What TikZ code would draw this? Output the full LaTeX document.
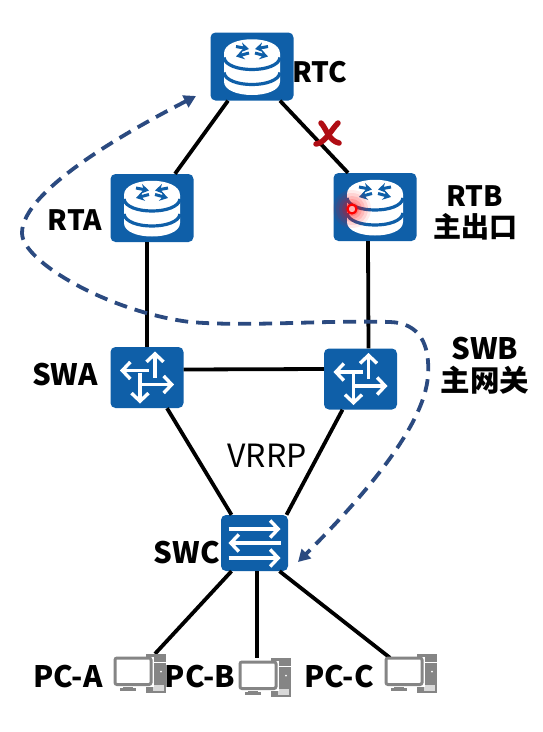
\documentclass[tikz,border=0pt]{standalone}
\usepackage{fontspec}
\setmainfont{Noto Sans CJK SC}
\usetikzlibrary{arrows.meta,calc}
\definecolor{iconblue}{HTML}{0F5FA8}
\definecolor{dashblue}{HTML}{2B4A80}
\definecolor{pcgray}{HTML}{858585}
\definecolor{xred}{HTML}{B00D14}
\tikzset{
  x=1pt,y=-1pt,
  routerbox/.style={fill=iconblue,rounded corners=5pt,minimum width=83pt,minimum height=68pt,inner sep=0pt},
  swabox/.style={fill=iconblue,rounded corners=5pt,minimum width=73pt,minimum height=61pt,inner sep=0pt},
  swcbox/.style={fill=iconblue,rounded corners=5pt,minimum width=67pt,minimum height=56pt,inner sep=0pt},
  pcbox/.style={minimum width=52pt,minimum height=39pt,inner sep=0pt},
  link/.style={line width=3.8pt,black},
  lbl/.style={font=\bfseries\fontsize{28}{33}\selectfont,inner sep=0pt,align=center},
  lblwide/.style={font=\bfseries\fontsize{29.5}{34}\selectfont,inner sep=0pt,align=center},
  whitearrow/.style={white,line width=3.4pt,-{Straight Barb[length=8pt,width=17pt,line width=3.4pt]}},
  bluearrow/.style={iconblue,line width=3pt,-{Stealth[length=8pt,width=10pt]}},
  routerglyph/.pic={
    \fill[white] (-28,-13) .. controls (-28,-32) and (28,-32) .. (28,-13)
       -- (28,15) .. controls (28,33) and (-28,33) .. (-28,15) -- cycle;
    \draw[iconblue,line width=3.2pt] (-28,-9) .. controls (-26,7) and (26,7) .. (28,-9);
    \draw[iconblue,line width=3.2pt] (-28,6) .. controls (-26,22) and (26,22) .. (28,6);
    \draw[bluearrow] (-16,-20) -- (-3,-17.5);
    \draw[bluearrow] (16,-20) -- (3,-17.5);
    \draw[bluearrow] (-3,-13.5) -- (-16,-10);
    \draw[bluearrow] (3,-13.5) -- (16,-10);
  },
  switchglyph/.pic={
    \draw[whitearrow] (8,0) -- (8,-26);
    \draw[whitearrow] (2,-7) -- (-27,-7);
    \draw[whitearrow] (-6,7) -- (27,7);
    \draw[whitearrow] (-7,-5) -- (-7,26);
    \fill[iconblue] (0,0) circle (4.5pt);
  },
  swcglyph/.pic={
    \draw[whitearrow] (-26,-14) -- (26,-14);
    \draw[whitearrow] (26,0) -- (-26,0);
    \draw[whitearrow] (-26,15) -- (26,15);
  },
  pcglyph/.pic={
    \fill[pcgray] (5.5,-19.5) rectangle (26,19.5);
    \fill[white] (11,-12) rectangle (26,-11);
    \fill[white] (21,-2) circle (1pt);
    \fill[white!85!black] (13,11) rectangle (24,17);
    \fill[pcgray] (-17,10) rectangle (-7,14);
    \fill[pcgray] (-20,14) rectangle (-4,17.5);
    \fill[white] (-28,-17) rectangle (13.5,13);
    \draw[pcgray,line width=3pt,rounded corners=2pt,fill=white] (-25,-15.5) rectangle (11,11);
  }
}
\begin{document}
\begin{tikzpicture}
\useasboundingbox[fill=white] (0,0) rectangle (543,732);
% device nodes
\node[routerbox] (rtc) at (252,66.5) {};
\node[routerbox] (rta) at (152,208) {};
\node[routerbox] (rtb) at (375,207) {};
\node[swabox] (swa) at (147,377.5) {};
\node[swabox] (swb) at (360.5,379) {};
\node[swcbox] (swc) at (254.5,543) {};
\node[pcbox] (pca) at (140,673.5) {};
\node[pcbox] (pcb) at (265,677.5) {};
\node[pcbox] (pcc) at (411,673.5) {};
% links
\draw[link] ([xshift=-24pt]rtc.south) -- ([xshift=23pt]rta.north);
\draw[link] ([xshift=28pt]rtc.south) -- ([xshift=-27pt]rtb.north);
\draw[link] ([xshift=-5pt]rta.south) -- ([xshift=0pt]swa.north);
\draw[link] ([xshift=-7pt]rtb.south) -- ([xshift=8pt]swb.north);
\draw[link] ([yshift=8pt]swa.east) -- ([yshift=10pt]swb.west);
\draw[link] ([xshift=20pt]swa.south) -- ([xshift=-23pt]swc.north);
\draw[link] ([xshift=-18pt]swb.south) -- ([xshift=32pt]swc.north);
\draw[link] ([xshift=-23pt]swc.south) -- ([xshift=15pt]pca.north);
\draw[link] ([xshift=2.5pt]swc.south) -- ([xshift=-8pt]pcb.north);
\draw[link] ([xshift=25pt]swc.south) -- ([xshift=-21pt,yshift=-4pt]pcc.north);
% icon glyphs
\pic at (rtc) {routerglyph};
\pic at (rta) {routerglyph};
\pic at (rtb) {routerglyph};
\pic at (swa) {switchglyph};
\pic at (swb) {switchglyph};
\pic at (swc) {swcglyph};
\pic at (pca) {pcglyph};
\pic at (pcb) {pcglyph};
\pic at (pcc) {pcglyph};
% glow and marker on RTB
\foreach \r/\o in {19/.08,16/.1,13/.12,10/.15,7/.2}{\fill[red,opacity=\o] (352,209) circle (\r pt);}
\draw[red,line width=2.2pt,fill=red!30!white] (352,209) circle (4.5pt);
% red cross
\draw[xred,line width=5.5pt,line cap=round] (316,144) .. controls (325,143) and (331,130) .. (338,123);
\draw[xred,line width=5.5pt,line cap=round] (321,123) .. controls (326,128) and (329,141) .. (339,143);
% dashed route
\coordinate (routeA) at (196,96);
\coordinate (routeB) at (298,562);
\draw[dashblue,line width=3.8pt,dash pattern=on 13pt off 8pt,
  {Triangle[length=12pt,width=13pt]}-{Triangle[length=12pt,width=13pt]}]
  (routeA) .. controls (130,130) and (22,190) .. (22,233)
  .. controls (22,262) and (110,312) .. (190,322)
  .. controls (250,327) and (320,320) .. (390,322)
  .. controls (420,323) and (430,345) .. (428,375)
  .. controls (425,430) and (350,510) .. (routeB);
% labels
\node[lbl] (lrtc) at (320,72) {RTC};
\node[lbl] (lrta) at (75,220) {RTA};
\node[lbl] (lrtb) at (475,213) {RTB\\[-2pt]主出口};
\node[lblwide] (lswa) at (65,375) {SWA};
\node[lblwide] (lswb) at (485,366) {SWB\\[-2pt]主网关};
\node[inner sep=0pt,font=\fontsize{32}{38}\selectfont] (lvrrp) at (267,456) {VRRP};
\node[lblwide] (lswc) at (187,553) {SWC};
\node[lblwide] (lpca) at (68,677) {PC-A};
\node[lblwide] (lpcb) at (200,677) {PC-B};
\node[lblwide] (lpcc) at (339,677) {PC-C};
\end{tikzpicture}
\end{document}
